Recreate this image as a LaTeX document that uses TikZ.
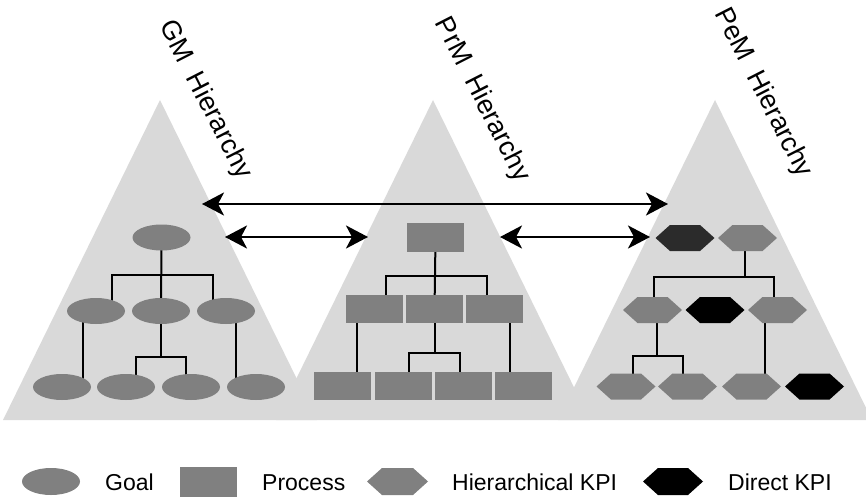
\documentclass[tikz,border=0pt]{standalone}
\usepackage{fontspec}
\setmainfont{Liberation Sans}
\usetikzlibrary{arrows.meta}
\usetikzlibrary{shapes.geometric}
\usetikzlibrary{shapes.symbols}
\definecolor{hiergray}{HTML}{D9D9D9}
\definecolor{nodegray}{HTML}{808080}
\definecolor{darkkpi}{HTML}{2B2B2B}
\pgfdeclarelayer{tri}
\pgfdeclarelayer{links}
\pgfsetlayers{tri,links,main}
\tikzset{both/.style = {{Stealth[length=22pt, width=23pt, inset=6pt]}-{Stealth[length=22pt, width=23pt, inset=6pt]}}}
\tikzset{goal/.style = {ellipse, fill = nodegray, inner sep = 0, minimum width = 58pt, minimum height = 26pt}}
\tikzset{proc/.style = {rectangle, fill = nodegray, inner sep = 0, minimum width = 57pt, minimum height = 28pt}}
\tikzset{kpi/.style = {signal, signal to = east and west, signal pointer angle = 84,
                       fill = nodegray, inner sep = 0, minimum width = 59pt, minimum height = 26pt}}
\tikzset{link/.style = {black, line width = 2pt}}
\tikzset{title/.style = {rotate = -63, inner sep = 0, font = \fontsize{27}{32}\selectfont}}
\tikzset{lbl/.style = {anchor = base west, inner sep = 0, font = \fontsize{23}{27}\selectfont}}

\begin{document}
\begin{tikzpicture}[x = 1pt, y = -1pt]
        \useasboundingbox (0, 0) rectangle (866, 497);
        \begin{pgfonlayer}{tri}
          \foreach \ax in {160, 433, 715}
            \fill [hiergray] (\ax, 100) -- (\ax - 157, 420) -- (\ax + 157, 420) -- cycle;
        \end{pgfonlayer}

        \node [title] (gmt) at (205, 100) {GM\ \ Hierarchy};
        \node [title] (prmt) at (482, 100) {PrM\ \ Hierarchy};
        \node [title] (pemt) at (763, 93) {PeM\ \ Hierarchy};

        % GM hierarchy
        \node [goal] (g0) at (161.5, 237.5) {};
        \node [goal] (g1) at (96, 311) {};
        \node [goal] (g2) at (161, 311) {};
        \node [goal] (g3) at (226, 311) {};
        \node [goal] (g4) at (62, 387) {};
        \node [goal] (g5) at (126, 387) {};
        \node [goal] (g6) at (191, 387) {};
        \node [goal] (g7) at (256, 387) {};
        \coordinate (gbar) at (161, 275);
        \coordinate (gbar2) at (161, 357);

        % PrM hierarchy
        \node [proc, minimum height = 29pt] (p0) at (435.5, 237.5) {};
        \node [proc] (p1) at (374, 309) {};
        \node [proc] (p2) at (434.5, 309) {};
        \node [proc] (p3) at (494.5, 309) {};
        \node [proc] (p4) at (342.5, 386) {};
        \node [proc] (p5) at (403.5, 386) {};
        \node [proc] (p6) at (463.5, 386) {};
        \node [proc] (p7) at (523.5, 386) {};
        \coordinate (pbar) at (435, 276);
        \coordinate (pbar2) at (434.5, 353);

        % PeM hierarchy
        \node [kpi, fill = darkkpi] (k0) at (685, 238) {};
        \node [kpi] (k1) at (747.5, 238) {};
        \node [kpi] (k2) at (652.5, 310) {};
        \node [kpi, fill = black] (k3) at (715, 310) {};
        \node [kpi] (k4) at (777.5, 310) {};
        \node [kpi] (k5) at (626, 386.5) {};
        \node [kpi] (k6) at (687.5, 386.5) {};
        \node [kpi] (k7) at (751.5, 386.5) {};
        \node [kpi, fill = black] (k8) at (814.5, 386.5) {};
        \coordinate (kbar) at (745, 277);
        \coordinate (kbar2) at (657, 356);

        \begin{pgfonlayer}{links}
          \draw [link] (g0.center) -- (g2.center);
          \draw [link] ([xshift = 16pt] g1.center) |- (gbar) -| ([xshift = -13pt] g3.center);
          \draw [link] ([xshift = -13pt] g1.center) -- ([xshift = 21pt] g4.center);
          \draw [link] (g2.center) -- (gbar2);
          \draw [link] ([xshift = 10pt] g5.center) |- (gbar2) -| ([xshift = -5pt] g6.center);
          \draw [link] ([xshift = 10pt] g3.center) -- ([xshift = -20pt] g7.center);

          \draw [link] (p0.center) -- (pbar) -- (p2.center);
          \draw [link] ([xshift = 12pt] p1.center) |- (pbar) -| ([xshift = -7.5pt] p3.center);
          \draw [link] ([xshift = -17pt] p1.center) -- ([xshift = 14.5pt] p4.center);
          \draw [link] (p2.center) -- (pbar2);
          \draw [link] ([xshift = 5.5pt] p5.center) |- (pbar2) -| ([xshift = -3.5pt] p6.center);
          \draw [link] ([xshift = 15.5pt] p3.center) -- ([xshift = -13.5pt] p7.center);

          \draw [link] ([xshift = -2.5pt] k1.center) -- (kbar);
          \draw [link] ([xshift = 1.5pt] k2.center) |- (kbar) -| ([xshift = -3.5pt] k4.center);
          \draw [link] ([xshift = 4.5pt] k2.center) -- (kbar2);
          \draw [link] ([xshift = 7pt] k5.center) |- (kbar2) -| ([xshift = -4.5pt] k6.center);
          \draw [link] ([xshift = -12.5pt] k4.center) -- ([xshift = 13.5pt] k7.center);
        \end{pgfonlayer}

        % links between hierarchies
        \coordinate (gmtop) at (202, 204);
        \coordinate (pemtop) at (668, 204);
        \coordinate (gmmid) at (225, 237);
        \coordinate (prml) at (368, 237);
        \coordinate (prmr) at (500, 237);
        \coordinate (pemmid) at (650, 237);
        \draw [black, line width = 2.5pt, both] (gmtop) -- (pemtop);
        \draw [black, line width = 2.5pt, both] (gmmid) -- (prml);
        \draw [black, line width = 2.5pt, both] (prmr) -- (pemmid);

        % legend
        \node [goal, minimum height = 27pt] (lgoal) at (51, 481.5) {};
        \node [lbl] (tgoal) at (105, 490) {Goal};
        \node [proc, minimum height = 34pt] (lproc) at (208.5, 484) {};
        \node [lbl] (tproc) at (262, 490) {Process};
        \node [kpi, minimum width = 61pt, minimum height = 27pt] (lhier) at (397.5, 481.5) {};
        \node [lbl] (thier) at (452, 490) {Hierarchical KPI};
        \node [kpi, fill = black, minimum width = 60pt, minimum height = 27pt] (ldir) at (673, 481.5) {};
        \node [lbl] (tdir) at (728, 490) {Direct KPI};
      \end{tikzpicture}
\end{document}
